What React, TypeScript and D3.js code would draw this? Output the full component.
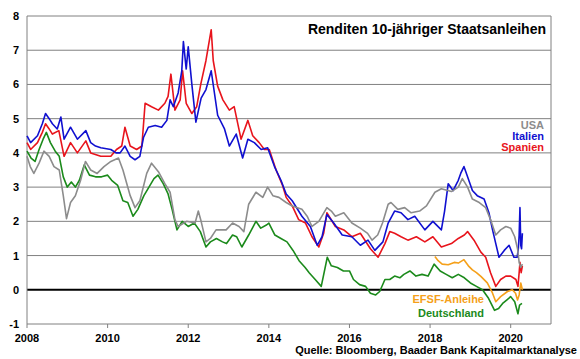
import * as d3 from 'd3'
import React from 'react'

// Renditen 10-jähriger Staatsanleihen (year, yield in %)
const yearTicks = [2008, 2010, 2012, 2014, 2016, 2018, 2020]
const yieldTicks = [-1, 0, 1, 2, 3, 4, 5, 6, 7, 8]

const usa: [number, number][] = [
  [2008.0, 3.9], [2008.08, 3.6], [2008.17, 3.4], [2008.3, 3.7], [2008.42, 4.05], [2008.55, 3.9],
  [2008.67, 3.6], [2008.8, 3.5], [2008.9, 2.75], [2008.98, 2.08], [2009.08, 2.55], [2009.2, 2.75],
  [2009.33, 3.2], [2009.45, 3.75], [2009.58, 3.5], [2009.74, 3.4], [2009.91, 3.6], [2010.08, 3.75],
  [2010.27, 3.85], [2010.38, 3.5], [2010.56, 2.75], [2010.68, 2.4], [2010.8, 2.6], [2010.97, 3.4],
  [2011.09, 3.7], [2011.26, 3.45], [2011.42, 3.1], [2011.55, 2.85], [2011.67, 2.05], [2011.75, 1.85],
  [2011.96, 2.0], [2012.17, 1.95], [2012.25, 2.3], [2012.32, 2.0], [2012.44, 1.4], [2012.55, 1.5],
  [2012.69, 1.75], [2012.94, 1.75], [2013.1, 1.95], [2013.26, 1.85], [2013.38, 1.7], [2013.5, 2.5],
  [2013.68, 2.85], [2013.85, 2.7], [2013.97, 3.0], [2014.1, 2.75], [2014.25, 2.7], [2014.43, 2.55],
  [2014.58, 2.45], [2014.82, 2.35], [2014.95, 2.15], [2015.07, 1.85], [2015.24, 2.0], [2015.44, 2.4],
  [2015.55, 2.3], [2015.65, 2.15], [2015.86, 2.25], [2016.06, 1.95], [2016.27, 1.8], [2016.45, 1.65],
  [2016.56, 1.45], [2016.7, 1.6], [2016.82, 1.95], [2016.96, 2.5], [2017.03, 2.55], [2017.2, 2.35],
  [2017.37, 2.4], [2017.53, 2.25], [2017.74, 2.3], [2017.91, 2.45], [2018.12, 2.85], [2018.28, 2.95],
  [2018.53, 2.87], [2018.7, 3.0], [2018.8, 3.25], [2018.93, 3.0], [2019.05, 2.65], [2019.22, 2.55],
  [2019.38, 2.4], [2019.5, 2.05], [2019.63, 1.6], [2019.75, 1.75], [2019.88, 1.85], [2020.0, 1.8],
  [2020.1, 1.55], [2020.17, 1.2], [2020.21, 0.8], [2020.25, 0.65], [2020.29, 0.75],
]

const italien: [number, number][] = [
  [2008.0, 4.5], [2008.09, 4.3], [2008.26, 4.5], [2008.38, 4.85], [2008.46, 5.15], [2008.55, 5.0],
  [2008.63, 4.85], [2008.75, 4.7], [2008.84, 5.05], [2008.92, 4.4], [2009.08, 4.75], [2009.25, 4.4],
  [2009.46, 4.65], [2009.58, 4.3], [2009.7, 4.2], [2009.83, 4.15], [2010.08, 4.1], [2010.21, 4.0],
  [2010.31, 4.0], [2010.43, 4.2], [2010.56, 3.9], [2010.68, 3.8], [2010.8, 3.9], [2010.89, 4.45],
  [2011.01, 4.75], [2011.18, 4.8], [2011.34, 4.75], [2011.47, 4.95], [2011.55, 5.55], [2011.63, 5.35],
  [2011.75, 5.75], [2011.84, 6.4], [2011.88, 7.25], [2011.95, 6.45], [2012.0, 7.1], [2012.09, 6.0],
  [2012.19, 4.9], [2012.32, 5.6], [2012.44, 5.85], [2012.57, 6.4], [2012.65, 5.75], [2012.73, 5.1],
  [2012.9, 4.7], [2013.02, 4.2], [2013.19, 4.55], [2013.35, 3.85], [2013.48, 4.4], [2013.64, 4.3],
  [2013.81, 4.1], [2013.97, 4.15], [2014.14, 3.6], [2014.3, 3.2], [2014.43, 2.8], [2014.58, 2.6],
  [2014.82, 2.15], [2015.03, 1.85], [2015.2, 1.3], [2015.32, 1.55], [2015.44, 2.2], [2015.61, 1.95],
  [2015.82, 1.6], [2016.06, 1.55], [2016.27, 1.3], [2016.46, 1.45], [2016.63, 1.15], [2016.83, 1.4],
  [2016.96, 1.95], [2017.12, 2.3], [2017.28, 2.25], [2017.45, 2.05], [2017.62, 2.15], [2017.87, 1.75],
  [2018.07, 2.0], [2018.28, 1.75], [2018.36, 2.3], [2018.45, 3.1], [2018.57, 2.9], [2018.7, 3.2],
  [2018.76, 3.4], [2018.84, 3.6], [2018.93, 3.3], [2019.05, 2.9], [2019.17, 2.75], [2019.34, 2.65],
  [2019.46, 2.25], [2019.55, 1.75], [2019.63, 1.35], [2019.71, 0.95], [2019.84, 1.15], [2019.96, 1.3],
  [2020.08, 0.95], [2020.16, 0.95], [2020.19, 1.2], [2020.21, 1.6], [2020.23, 2.4], [2020.25, 1.3],
  [2020.27, 1.2], [2020.29, 1.65],
]

const spanien: [number, number][] = [
  [2008.0, 4.3], [2008.09, 4.1], [2008.26, 4.3], [2008.38, 4.6], [2008.46, 4.85], [2008.55, 4.7],
  [2008.63, 4.55], [2008.79, 4.65], [2008.92, 3.9], [2009.08, 4.3], [2009.25, 4.0], [2009.46, 4.35],
  [2009.58, 4.0], [2009.83, 3.9], [2010.08, 3.9], [2010.22, 4.1], [2010.35, 4.2], [2010.43, 4.75],
  [2010.56, 4.2], [2010.72, 4.1], [2010.85, 4.2], [2010.93, 5.45], [2011.09, 5.35], [2011.26, 5.25],
  [2011.42, 5.45], [2011.5, 5.65], [2011.57, 6.3], [2011.67, 5.25], [2011.8, 5.55], [2011.86, 6.4],
  [2011.95, 5.45], [2012.09, 5.15], [2012.21, 5.35], [2012.31, 6.0], [2012.44, 6.7], [2012.57, 7.6],
  [2012.62, 6.7], [2012.73, 5.95], [2012.86, 5.55], [2013.02, 5.25], [2013.14, 5.35], [2013.31, 4.4],
  [2013.48, 4.95], [2013.6, 4.5], [2013.76, 4.3], [2013.89, 4.1], [2014.01, 4.1], [2014.18, 3.5],
  [2014.34, 3.05], [2014.43, 2.7], [2014.58, 2.45], [2014.74, 2.05], [2014.91, 1.95], [2015.07, 1.55],
  [2015.24, 1.25], [2015.36, 1.65], [2015.44, 2.25], [2015.65, 1.85], [2015.86, 1.75], [2016.06, 1.55],
  [2016.27, 1.65], [2016.52, 1.2], [2016.71, 0.95], [2016.88, 1.35], [2017.0, 1.7], [2017.12, 1.65],
  [2017.28, 1.55], [2017.45, 1.45], [2017.66, 1.55], [2017.87, 1.4], [2018.07, 1.55], [2018.28, 1.25],
  [2018.53, 1.35], [2018.7, 1.5], [2018.85, 1.6], [2018.93, 1.7], [2019.09, 1.45], [2019.26, 1.1],
  [2019.38, 0.95], [2019.5, 0.5], [2019.63, 0.1], [2019.75, 0.3], [2019.88, 0.4], [2020.0, 0.4],
  [2020.13, 0.3], [2020.18, 0.1], [2020.21, 0.5], [2020.23, 0.8], [2020.26, 0.5], [2020.29, 0.7],
]

const deutschland: [number, number][] = [
  [2008.0, 4.05], [2008.1, 3.85], [2008.2, 3.75], [2008.3, 4.1], [2008.4, 4.4], [2008.48, 4.6],
  [2008.58, 4.3], [2008.7, 4.05], [2008.8, 3.9], [2008.9, 3.3], [2009.0, 3.0], [2009.1, 3.15],
  [2009.2, 3.0], [2009.3, 3.2], [2009.42, 3.65], [2009.55, 3.35], [2009.7, 3.3], [2009.85, 3.3],
  [2010.0, 3.35], [2010.1, 3.2], [2010.25, 3.05], [2010.38, 2.6], [2010.5, 2.55], [2010.63, 2.15],
  [2010.75, 2.35], [2010.9, 2.75], [2011.0, 2.95], [2011.15, 3.25], [2011.25, 3.35], [2011.38, 3.1],
  [2011.5, 2.8], [2011.6, 2.35], [2011.72, 1.75], [2011.85, 2.0], [2012.0, 1.85], [2012.15, 1.95],
  [2012.3, 1.7], [2012.44, 1.25], [2012.55, 1.4], [2012.7, 1.5], [2012.85, 1.4], [2012.95, 1.35],
  [2013.1, 1.6], [2013.2, 1.55], [2013.33, 1.25], [2013.5, 1.6], [2013.68, 2.0], [2013.8, 1.8],
  [2013.95, 1.9], [2014.0, 1.95], [2014.15, 1.6], [2014.3, 1.5], [2014.45, 1.4], [2014.6, 1.15],
  [2014.75, 0.85], [2014.9, 0.65], [2015.0, 0.5], [2015.15, 0.3], [2015.3, 0.1], [2015.45, 0.95],
  [2015.55, 0.7], [2015.7, 0.65], [2015.85, 0.55], [2016.0, 0.55], [2016.1, 0.3], [2016.25, 0.15],
  [2016.4, 0.1], [2016.52, -0.1], [2016.65, -0.15], [2016.75, -0.05], [2016.88, 0.3], [2017.0, 0.3],
  [2017.12, 0.4], [2017.25, 0.35], [2017.35, 0.45], [2017.5, 0.55], [2017.65, 0.4], [2017.8, 0.45],
  [2017.95, 0.4], [2018.1, 0.75], [2018.25, 0.55], [2018.4, 0.45], [2018.55, 0.35], [2018.7, 0.45],
  [2018.85, 0.35], [2019.0, 0.2], [2019.15, 0.1], [2019.3, 0.0], [2019.45, -0.25], [2019.6, -0.6],
  [2019.7, -0.55], [2019.8, -0.4], [2019.9, -0.3], [2020.0, -0.2], [2020.1, -0.35], [2020.18, -0.7],
  [2020.22, -0.45], [2020.28, -0.4],
]

const efsf: [number, number][] = [
  [2018.12, 0.97], [2018.2, 0.85], [2018.3, 0.75], [2018.45, 0.73], [2018.6, 0.8], [2018.7, 0.78],
  [2018.84, 0.88], [2018.95, 0.7], [2019.05, 0.58], [2019.15, 0.5], [2019.26, 0.39], [2019.42, 0.2],
  [2019.55, -0.1], [2019.63, -0.35], [2019.75, -0.2], [2019.92, -0.05], [2020.04, 0.0], [2020.12, -0.1],
  [2020.17, -0.3], [2020.21, -0.15], [2020.25, 0.2], [2020.29, 0.0],
]

// drawing order: first one ends up at the back
const series = [
  { name: 'Deutschland', data: deutschland, color: '#1b8a1b' },
  { name: 'EFSF-Anleihe', data: efsf, color: '#f5a01a' },
  { name: 'Spanien', data: spanien, color: '#e8141c' },
  { name: 'Italien', data: italien, color: '#1010d0' },
  { name: 'USA', data: usa, color: '#8c8c8c' },
]

export default function App() {
  const w = 580
  const h = 359
  const x = d3.scaleLinear().domain([2008, 2021]).range([27, 551])
  const y = d3.scaleLinear().domain([-1, 8]).range([324, 16])
  const line = d3.line<[number, number]>().x(d => x(d[0])).y(d => y(d[1]))
  const font = 'Arial, "Liberation Sans", sans-serif'

  return (
    <svg width={w} height={h} style={{ position: 'absolute', left: 0, top: 0, background: '#fff' }} fontFamily={font} fontWeight="bold">
      {/* grid */}
      {yieldTicks.map(t => (
        <line key={t} x1={x(2008)} x2={x(2021)} y1={y(t)} y2={y(t)}
          stroke={t === 0 ? '#000' : '#808080'} strokeWidth={t === 0 ? 2 : 1} />
      ))}
      <line x1={x(2008)} x2={x(2008)} y1={y(8)} y2={y(-1)} stroke="#808080" />
      <line x1={x(2021)} x2={x(2021)} y1={y(8)} y2={y(-1)} stroke="#808080" />
      {yearTicks.map(t => (
        <line key={t} x1={x(t)} x2={x(t)} y1={y(-1)} y2={y(-1) + 4} stroke="#808080" />
      ))}

      {/* axis labels */}
      {yieldTicks.map(t => (
        <text key={t} x={19} y={y(t)} dy="0.36em" textAnchor="end" fontSize={11} fill="#000">{t}</text>
      ))}
      {yearTicks.map(t => (
        <text key={t} x={x(t)} y={341.5} textAnchor="middle" fontSize={11} fill="#000">{t}</text>
      ))}

      {/* lines */}
      {series.map(s => (
        <path key={s.name} d={line(s.data) ?? ''} fill="none" stroke={s.color} strokeWidth={1.6} strokeLinejoin="round" />
      ))}

      {/* texts */}
      <text x={546} y={34.3} textAnchor="end" fontSize={14} fill="#000">Renditen 10-jähriger Staatsanleihen</text>
      <text x={544} y={129} textAnchor="end" fontSize={11} fill="#8c8c8c">USA</text>
      <text x={544} y={140} textAnchor="end" fontSize={11} fill="#1010d0">Italien</text>
      <text x={544} y={151} textAnchor="end" fontSize={11} fill="#e8141c">Spanien</text>
      <text x={484} y={302.7} textAnchor="end" fontSize={11} fill="#f5a01a">EFSF-Anleihe</text>
      <text x={484} y={317.3} textAnchor="end" fontSize={11} fill="#1b8a1b">Deutschland</text>
      <text x={577} y={354.3} textAnchor="end" fontSize={11} fill="#000">Quelle: Bloomberg, Baader Bank Kapitalmarktanalyse</text>
    </svg>
  )
}
